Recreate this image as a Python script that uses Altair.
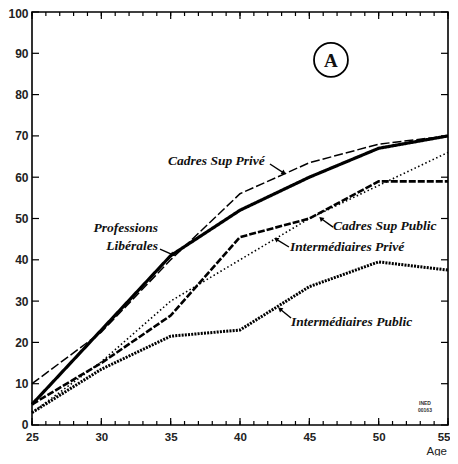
import altair as alt
import pandas as pd

ages = [25, 30, 35, 40, 45, 50, 55]
series_names = ["Professions Libérales", "Cadres Sup Privé", "Cadres Sup Public",
                "Intermédiaires Privé", "Intermédiaires Public"]
prof_liberales = [5, 23, 41, 52, 60, 67, 70]
cadres_prive = [10, 22.5, 40, 56, 63.5, 68, 70]
cadres_public = [5, 15, 26.5, 45.5, 50, 59, 59]
inter_prive = [3, 15.3, 30, 40, 50, 58, 66]
inter_public = [3, 13.5, 21.5, 23, 33.5, 39.5, 37.5]

x_labels = [25, 30, 35, 40, 45, 50, 55]
x_minor = list(range(25, 56))
y_labels = list(range(0, 101, 10))

# annotation texts (label anchors in data units)
lab_text = ["Cadres Sup Privé", "Cadres Sup Public", "Intermédiaires Privé", "Intermédiaires Public"]
lab_x = [34.81, 46.71, 43.6, 43.68]
lab_y = [63.9, 48.2, 43.1, 24.9]
lab_r_text = ["Professions", "Libérales"]
lab_r_x = [34.09, 34.09]
lab_r_y = [47.7, 43.4]

arr_x = [42.16, 34.23, 46.71, 43.53, 43.68]
arr_y = [63.2, 42.6, 47.9, 43.1, 25.9]
arr_x2 = [43.17, 35.17, 45.84, 42.6, 42.88]
arr_y2 = [61.0, 41.2, 50.0, 45.0, 28.1]
arr_angle = [122.7, 114.8, 312.5, 301.6, 309.3]

series_values = [prof_liberales, cadres_prive, cadres_public, inter_prive, inter_public]
series_dash = [[1, 0], [9, 3], [7, 2], [1.5, 2.5], [2, 1.2]]
series_width = [3.2, 1.5, 2.6, 1.6, 3.0]

rows = []
for name, vals in zip(series_names, series_values):
    for a, v in zip(ages, vals):
        rows.append({"age": a, "pct": v, "serie": name})
df = pd.DataFrame(rows)

W, H = 416, 413
xs = alt.Scale(domain=[25, 55], nice=False, zero=False)
ys = alt.Scale(domain=[0, 100], nice=False)

lab_font = "Liberation Sans"
serif = "Liberation Serif"

x_axis = alt.Axis(
    orient="bottom", values=x_labels, ticks=False, domain=False, grid=False,
    labelFont=lab_font, labelFontWeight="bold", labelFontSize=11.5, labelColor="#222",
    labelPadding=6, labelFlush=False,
    labelAlign={"expr": "datum.value == 55 ? 'right' : 'center'"},
    labelOffset={"expr": "datum.value == 55 ? 2 : 0"},
    title="Age", titleFont=lab_font,
    titleFontWeight="normal", titleFontSize=11.5, titleColor="#222",
    titleAnchor="start", titleAlign="left", titleX=W - 22, titleY=31,
    titleBaseline="bottom")
y_axis = alt.Axis(
    orient="left", values=y_labels, ticks=False, domain=False, grid=False,
    labelFont=lab_font, labelFontWeight="bold", labelFontSize=12, labelColor="#222",
    labelPadding=4, labelFlush=False,
    labelOffset={"expr": "datum.value == 100 ? 1.5 : (datum.value == 0 ? -1 : 0)"},
    title=None)


def X(field):
    return alt.X(field, scale=xs, axis=x_axis)


def Y(field):
    return alt.Y(field, scale=ys, axis=y_axis)


layers = []
for name, dash, sw in zip(series_names, series_dash, series_width):
    layers.append(
        alt.Chart(df).transform_filter(alt.datum.serie == name)
        .mark_line(color="black", strokeDash=dash, strokeWidth=sw, strokeCap="butt")
        .encode(x=X("age:Q"), y=Y("pct:Q"))
    )

minor_df = pd.DataFrame({"age": x_minor})
major_df = pd.DataFrame({"age": x_labels})
ytick_df = pd.DataFrame({"pct": y_labels})


def xticks(d, y0, y1):
    return alt.Chart(d).mark_rule(color="black", strokeWidth=1.2).encode(
        x=X("age:Q"), y=alt.value(y0), y2=alt.value(y1))


def yticks(x0, x1):
    return alt.Chart(ytick_df).mark_rule(color="black", strokeWidth=1.2).encode(
        y=Y("pct:Q"), x=alt.value(x0), x2=alt.value(x1))


ticks = [
    xticks(minor_df, H, H - 4), xticks(major_df, H, H - 7),
    xticks(minor_df, 0, 4), xticks(major_df, 0, 7),
    yticks(0, 7), yticks(W, W - 7),
]

lab_df = pd.DataFrame({"t": lab_text, "age": lab_x, "pct": lab_y})
lab_r_df = pd.DataFrame({"t": lab_r_text, "age": lab_r_x, "pct": lab_r_y})
arr_df = pd.DataFrame({"age": arr_x, "pct": arr_y, "x2": arr_x2, "y2": arr_y2, "a": arr_angle})
head_df = pd.DataFrame({"age": arr_x2, "pct": arr_y2, "a": arr_angle})

labels_l = alt.Chart(lab_df).mark_text(align="left", baseline="middle", font=serif,
                                       fontStyle="italic", fontWeight="bold", fontSize=13.5,
                                       color="#111").encode(
    x=X("age:Q"), y=Y("pct:Q"), text="t:N")
labels_r = alt.Chart(lab_r_df).mark_text(align="right", baseline="middle", font=serif,
                                         fontStyle="italic", fontWeight="bold", fontSize=13.5,
                                         color="#111").encode(
    x=X("age:Q"), y=Y("pct:Q"), text="t:N")

arrows = alt.Chart(arr_df).mark_rule(color="black", strokeWidth=1.4).encode(
    x=X("age:Q"), y=Y("pct:Q"), x2="x2:Q", y2="y2:Q")
heads = alt.Chart(head_df).mark_point(shape="triangle-up", filled=True, color="black",
                                      size=28, opacity=1).encode(
    x=X("age:Q"), y=Y("pct:Q"), angle=alt.Angle("a:Q", scale=None))

badge_df = pd.DataFrame({"age": [46.56], "pct": [88.4], "t": ["A"]})
circle = alt.Chart(badge_df).mark_point(shape="circle", filled=False, color="black",
                                        size=1150, strokeWidth=1.8, opacity=1).encode(
    x=X("age:Q"), y=Y("pct:Q"))
letter = alt.Chart(badge_df).mark_text(font=serif, fontWeight="bold", fontSize=19,
                                       baseline="middle", align="center", dy=1,
                                       color="#111").encode(
    x=X("age:Q"), y=Y("pct:Q"), text="t:N")

ined_df = pd.DataFrame({"age": [53.34, 53.34], "pct": [5.4, 3.6], "t": ["INED", "00163"]})
ined = alt.Chart(ined_df).mark_text(font=lab_font, fontWeight="bold", fontSize=5,
                                    baseline="middle", align="center", color="#333").encode(
    x=X("age:Q"), y=Y("pct:Q"), text="t:N")

chart = alt.layer(
    *layers, *ticks, arrows, heads, labels_l, labels_r, circle, letter, ined
).properties(
    width=W, height=H,
    autosize=alt.AutoSizeParams(type="none"),
    padding={"left": 24, "top": 4, "right": 2, "bottom": 31},
    background="white",
).configure_view(stroke="black", strokeWidth=1.6)

chart.save("out.html", embed_options={"renderer": "svg", "actions": False})
